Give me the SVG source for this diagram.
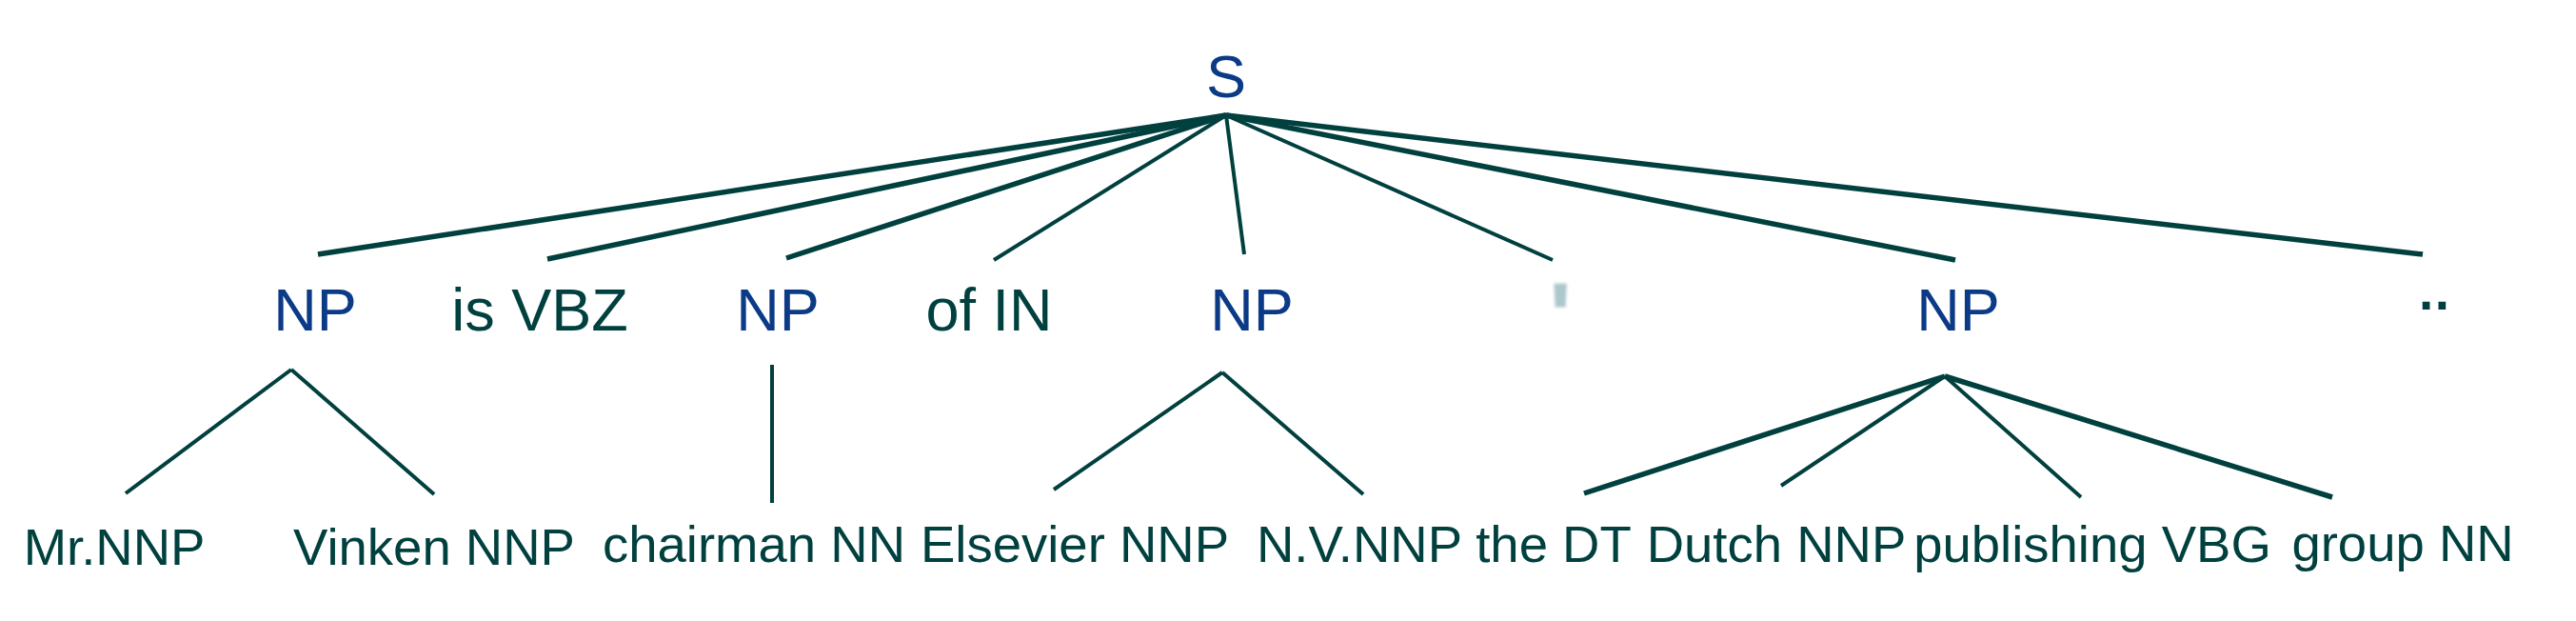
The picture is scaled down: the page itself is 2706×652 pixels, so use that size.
<svg xmlns="http://www.w3.org/2000/svg" width="2706" height="652" viewBox="0 0 2706 652">
<style>
.nt{font-family:"Liberation Sans",Arial,sans-serif;font-size:63px;fill:#0b3a86;text-anchor:middle}
.w1{font-family:"Liberation Sans",Arial,sans-serif;font-size:63px;fill:#00403e;text-anchor:middle}
.w2{font-family:"Liberation Sans",Arial,sans-serif;font-size:54.5px;fill:#00403e;text-anchor:middle}
.e{stroke:#00403e;stroke-linecap:butt;fill:none}
.k{stroke-width:5.5}
.t{stroke-width:4}
</style>
<defs>
<filter id="soft" x="-50%" y="-50%" width="200%" height="200%"><feGaussianBlur stdDeviation="1.5"/></filter>
</defs>
<rect width="2706" height="652" fill="#ffffff"/>
<g id="connectors">
<line class="e k" x1="1288" y1="121" x2="334" y2="267"/>
<line class="e k" x1="1288" y1="121" x2="575" y2="272"/>
<line class="e k" x1="1288" y1="121" x2="826" y2="271"/>
<line class="e t" x1="1288" y1="121" x2="1044" y2="273"/>
<line class="e t" x1="1288" y1="121" x2="1307" y2="267"/>
<line class="e t" x1="1288" y1="121" x2="1631" y2="273"/>
<line class="e k" x1="1288" y1="121" x2="2054" y2="273"/>
<line class="e k" x1="1288" y1="121" x2="2545" y2="267"/>
<line class="e t" x1="306" y1="388" x2="132" y2="518"/>
<line class="e t" x1="306" y1="388" x2="456" y2="519"/>
<line class="e t" x1="811" y1="383" x2="811" y2="528"/>
<line class="e t" x1="1284" y1="391" x2="1107" y2="514"/>
<line class="e t" x1="1284" y1="391" x2="1432" y2="519"/>
<line class="e k" x1="2043" y1="395" x2="1664" y2="518"/>
<line class="e t" x1="2043" y1="395" x2="1871" y2="510"/>
<line class="e t" x1="2043" y1="395" x2="2186" y2="522"/>
<line class="e k" x1="2043" y1="395" x2="2450" y2="522"/>
</g>
<g id="S"><text class="nt" x="1288" y="102">S</text></g>
<g id="NP1"><text class="nt" x="331" y="347">NP</text></g>
<g id="isVBZ"><text class="w1" x="567" y="347">is VBZ</text></g>
<g id="NP2"><text class="nt" x="817" y="347">NP</text></g>
<g id="ofIN"><text class="w1" x="1039" y="347">of IN</text></g>
<g id="NP3"><text class="nt" x="1315" y="347">NP</text></g>
<g id="quote"><text class="w1" x="1639" y="363" filter="url(#soft)" style="font-size:90px;fill:#acc8cc;stroke:#acc8cc;stroke-width:5">'</text></g>
<g id="NP4"><text class="nt" x="2057" y="347">NP</text></g>
<g id="dots"><text class="w1" x="2557" y="324" style="font-size:60px;stroke:#00403e;stroke-width:2">..</text></g>
<g id="MrNNP"><text class="w2" x="120" y="593">Mr.NNP</text></g>
<g id="VinkenNNP"><text class="w2" x="456" y="593">Vinken NNP</text></g>
<g id="chairmanNN"><text class="w2" x="792" y="590">chairman NN</text></g>
<g id="ElsevierNNP"><text class="w2" x="1129" y="590">Elsevier NNP</text></g>
<g id="NVNNP"><text class="w2" x="1428" y="590">N.V.NNP</text></g>
<g id="theDT"><text class="w2" x="1632" y="590">the DT</text></g>
<g id="DutchNNP"><text class="w2" x="1866" y="590">Dutch NNP</text></g>
<g id="publishingVBG"><text class="w2" x="2198" y="590">publishing VBG</text></g>
<g id="groupNN"><text class="w2" x="2524" y="589">group NN</text></g>
</svg>
